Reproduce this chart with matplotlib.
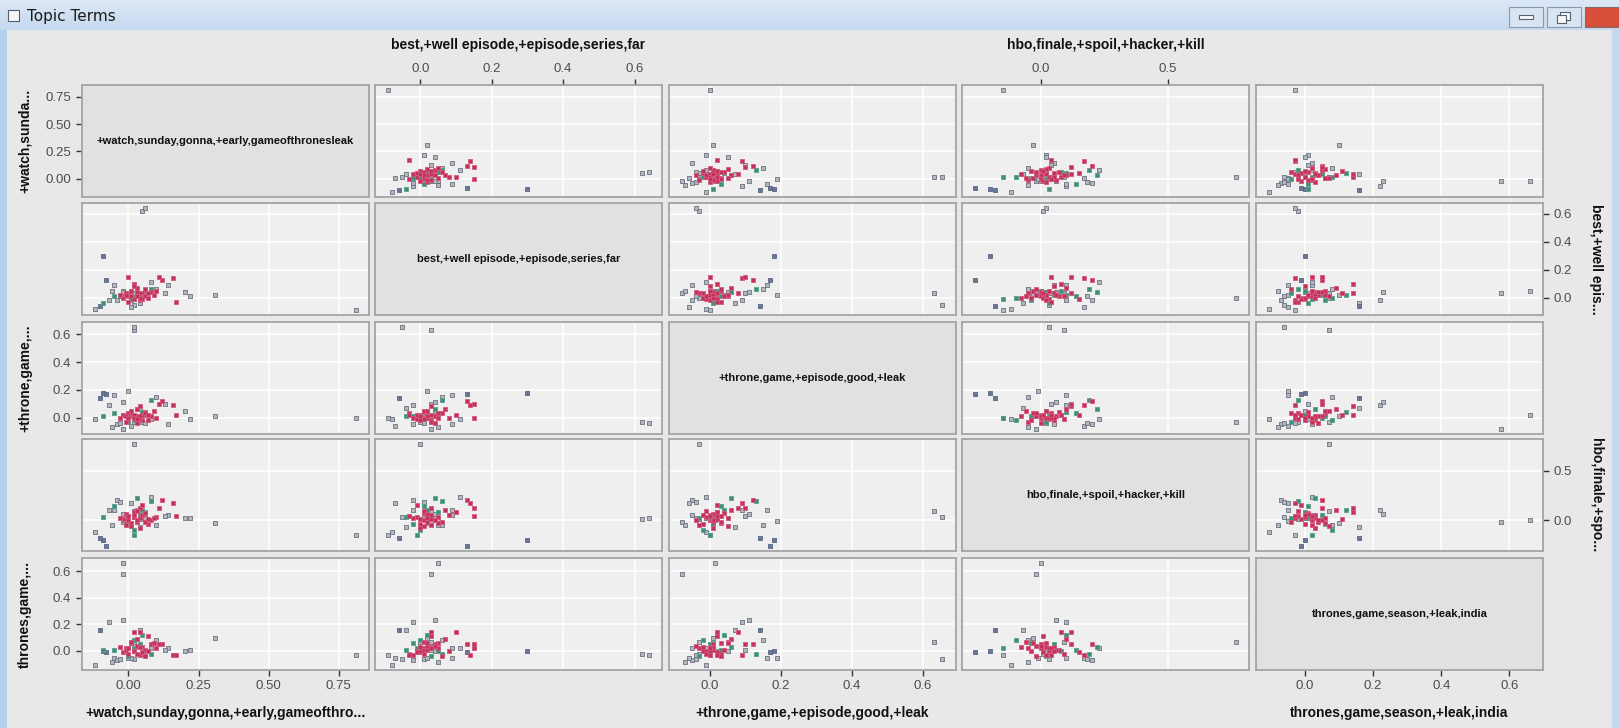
import matplotlib
matplotlib.use("Agg")
import matplotlib.pyplot as plt
import numpy as np
from matplotlib.patches import Rectangle
from matplotlib.colors import LinearSegmentedColormap

# ---------------- data (topic loadings) ----------------
topic_labels = [
    "+watch,sunday,gonna,+early,gameofthronesleak",
    "best,+well episode,+episode,series,far",
    "+throne,game,+episode,good,+leak",
    "hbo,finale,+spoil,+hacker,+kill",
    "thrones,game,season,+leak,india",
]
bottom_titles = ["+watch,sunday,gonna,+early,gameofthro...", None,
                 "+throne,game,+episode,good,+leak", None,
                 "thrones,game,season,+leak,india"]
top_titles = [None, "best,+well episode,+episode,series,far", None,
              "hbo,finale,+spoil,+hacker,+kill", None]
left_titles = ["+watch,sunda...", None, "+throne,game,...", None, "thrones,game,..."]
right_titles = [None, "best,+well epis...", None, "hbo,finale,+spo...", None]

tick_values = [[0.0, 0.25, 0.5, 0.75], [0.0, 0.2, 0.4, 0.6], [0.0, 0.2, 0.4, 0.6],
               [0.0, 0.5], [0.0, 0.2, 0.4, 0.6]]
tick_formats = ["{:.2f}", "{:.1f}", "{:.1f}", "{:.1f}", "{:.1f}"]

watch = [0.81, 0.05, 0.06, 0.02, 0.02, -0.02, -0.02, 0.02, -0.09, 0.31, 0.22, -0.12, -0.10, -0.08,
         -0.07, 0.14, -0.05, -0.04, 0.13, -0.06, 0.01, 0.10, 0.20, -0.03, 0.04, 0.08, -0.02, 0.00,
         0.02, 0.04, -0.05, 0.01, 0.06, 0.00, 0.03, -0.09, 0.08, 0.02, 0.05,
         0.00, 0.02, 0.03, -0.02, 0.05, 0.01, 0.04, 0.06, -0.01, 0.08, 0.03, 0.00, 0.07, 0.02, 0.04,
         -0.03, 0.10, 0.01, 0.05, 0.03, 0.12, 0.06, -0.01, 0.02, 0.09, 0.04, 0.16, 0.07, 0.00, 0.03, 0.11, 0.17]
best = [-0.09, 0.62, 0.64, 0.03, -0.05, 0.03, 0.05, 0.00, 0.30, 0.02, 0.01, -0.08, -0.06, 0.13,
        -0.02, 0.09, 0.09, -0.02, 0.03, 0.05, -0.07, 0.06, 0.04, 0.01, -0.04, 0.11, 0.04, 0.02,
        0.00, 0.02, 0.01, -0.02, 0.05, 0.03, 0.04, -0.04, 0.06, -0.01, 0.02,
        0.01, -0.01, 0.02, 0.00, 0.03, 0.05, -0.02, 0.01, 0.03, 0.04, 0.07, -0.03, 0.00, 0.10, 0.03,
        0.02, 0.05, 0.01, -0.01, 0.04, 0.13, 0.06, 0.02, 0.08, 0.02, 0.00, 0.14, 0.03, 0.15, 0.01, 0.15, -0.03]
throne = [0.00, -0.03, -0.04, 0.63, 0.655, -0.08, 0.015, -0.03, 0.18, 0.01, -0.01, -0.01, 0.14, 0.17,
          0.09, -0.05, 0.16, -0.05, 0.10, -0.07, -0.06, 0.15, 0.05, -0.04, 0.07, -0.01, 0.11, 0.19,
          -0.02, 0.00, 0.03, 0.01, 0.02, -0.03, 0.06, 0.01, 0.13, 0.00, 0.04,
          0.00, -0.01, 0.01, 0.02, -0.02, 0.03, 0.00, 0.04, -0.03, 0.01, 0.06, 0.03, -0.02, 0.02, 0.08,
          0.00, 0.00, 0.05, 0.02, -0.04, 0.12, 0.03, 0.01, 0.00, 0.05, 0.01, 0.09, 0.02, 0.00, -0.01, 0.10, 0.02]
hbo = [-0.15, 0.01, 0.02, 0.09, 0.03, -0.02, 0.00, 0.77, -0.20, -0.03, 0.02, -0.12, -0.18, -0.26,
       0.10, 0.05, 0.10, 0.20, 0.04, -0.05, 0.17, -0.05, 0.02, 0.18, -0.07, 0.23, 0.06, -0.01,
       -0.10, 0.05, 0.14, -0.04, 0.08, 0.02, 0.22, 0.03, 0.19, -0.15, 0.10,
       0.00, 0.03, -0.02, 0.01, 0.05, -0.03, 0.02, 0.07, -0.05, 0.00, 0.10, 0.04, -0.04, 0.08, 0.12,
       0.02, 0.03, -0.06, 0.15, 0.00, 0.20, -0.02, 0.06, 0.05, 0.02, -0.08, 0.17, 0.01, 0.04, 0.09, 0.12, 0.04]
thrones = [-0.03, -0.02, -0.03, 0.07, -0.06, 0.575, 0.66, 0.07, 0.00, 0.10, 0.01, -0.105, 0.16, -0.01,
           0.22, 0.02, -0.05, -0.07, 0.01, -0.08, -0.05, 0.08, 0.00, -0.06, 0.16, 0.02, 0.23, -0.05,
           0.08, 0.05, 0.01, 0.06, 0.00, -0.04, 0.03, 0.01, -0.02, 0.02, 0.12,
           0.02, 0.00, 0.04, -0.01, 0.03, 0.06, -0.03, 0.01, 0.02, 0.05, 0.09, -0.02, 0.00, 0.14, 0.14,
           0.03, 0.02, 0.07, -0.01, 0.04, 0.05, -0.04, 0.01, 0.00, 0.06, 0.03, -0.03, 0.11, 0.02, -0.02, 0.05, -0.03]
group = (["g"] * 8 + ["b"] + ["g"] * 3 + ["b", "b"] + ["g"] * 2 + ["g"] * 12
         + ["t"] * 11
         + ["r"] * 32)

# ---------------- styling ----------------
W, H = 1619, 728
fig = plt.figure(figsize=(W / 100, H / 100), dpi=100)
fig.patch.set_facecolor("#E8E8E8")
plt.rcParams["font.family"] = ["Liberation Sans", "DejaVu Sans"]


def fx(x):
    return x / W


def fy(y):
    return 1 - y / H


def rect(x0, y0, x1, y1, fc, ec="none", lw=0.0, z=0):
    fig.patches.append(Rectangle((fx(x0), fy(y1)), (x1 - x0) / W, (y1 - y0) / H,
                                 transform=fig.transFigure, facecolor=fc, edgecolor=ec,
                                 lw=lw, zorder=z))


# window chrome
bar = fig.add_axes([0, fy(30), 1, 30 / H])
grad = np.linspace(0, 1, 50).reshape(-1, 1)
cm = LinearSegmentedColormap.from_list("tb", ["#DCE8F6", "#C6D9EF"])
bar.imshow(grad, aspect="auto", cmap=cm, extent=[0, 1, 0, 1])
bar.set_axis_off()
rect(0, 30, 7, 728, "#B4CFEC")
rect(1612, 30, 1619, 728, "#C4D8EE")
rect(8, 10, 19, 21, "#F4F6F8", "#55606E", 0.8, 5)
fig.text(fx(27), fy(16), "Topic Terms", fontsize=11, color="#1A1A1A", va="center", ha="left",
         family=["DejaVu Sans"])
rect(1509, 7, 1543, 27, "#D8E4F2", "#8A9AB0", 0.8, 5)
rect(1547, 7, 1581, 27, "#D8E4F2", "#8A9AB0", 0.8, 5)
rect(1585, 7, 1619, 27, "#D8503A", "#8A6A60", 0.8, 5)
rect(1519, 15, 1533, 19, "#F8F8F8", "#55606E", 0.8, 6)
rect(1560, 12, 1570, 20, "#F8F8F8", "#55606E", 0.8, 6)
rect(1557, 15, 1566, 23, "#F8F8F8", "#55606E", 0.8, 7)
fig.text(fx(1602), fy(17), "\u2715", fontsize=9, ha="center", va="center", color="white",
         weight="bold", family=["DejaVu Sans"])

color_face = {"r": "#C4325C", "t": "#3E8E78", "g": "#B2B6BE", "b": "#6A7696"}
color_edge = {"r": "#D25A7E", "t": "#5AA08C", "g": "#6C7280", "b": "#5A6684"}
draw_order = ["g", "b", "t", "r"]

data = [np.array(watch), np.array(best), np.array(throne), np.array(hbo), np.array(thrones)]
grp = np.array(group)
limits = []
for v in data:
    span = v.max() - v.min()
    limits.append((v.min() - 0.05 * span, v.max() + 0.05 * span))

col_left = [81.7, 375.0, 668.5, 962.0, 1256.0]
row_top = [85.0, 203.3, 321.7, 439.0, 558.0]
pw, ph = 287.0, 112.0

tick_kw = dict(length=4.5, width=1.0, color="#333333", labelsize=9.5,
               labelcolor="#4D4D4D", pad=3)

for i in range(5):
    for j in range(5):
        ax = fig.add_axes([fx(col_left[j]), fy(row_top[i] + ph), pw / W, ph / H])
        ax.set_xlim(*limits[j])
        ax.set_ylim(*limits[i])
        for s in ax.spines.values():
            s.set_color("#A4A4A4")
            s.set_linewidth(1.3)
        ax.set_xticks(tick_values[j])
        ax.set_yticks(tick_values[i])
        ax.set_xticklabels([tick_formats[j].format(t) for t in tick_values[j]])
        ax.set_yticklabels([tick_formats[i].format(t) for t in tick_values[i]])
        ax.tick_params(axis="both", which="both", length=0, labelbottom=False, labelleft=False,
                       labeltop=False, labelright=False, bottom=False, left=False, top=False,
                       right=False)
        if i == j:
            ax.set_facecolor("#E1E1E1")
            ax.text(0.5, 0.5, topic_labels[i], transform=ax.transAxes, ha="center", va="center",
                    fontsize=8, weight="bold", color="#111111")
        else:
            ax.set_facecolor("#EFEFEF")
            ax.grid(True, color="white", lw=1.1)
            ax.set_axisbelow(True)
            for g in draw_order:
                m = grp == g
                ax.scatter(data[j][m], data[i][m], s=7, marker="s", c=color_face[g],
                           edgecolors=color_edge[g], linewidths=0.6, zorder=3)
        if i == 0 and top_titles[j]:
            ax.tick_params(axis="x", top=True, labeltop=True, **tick_kw)
        if i == 4 and bottom_titles[j]:
            ax.tick_params(axis="x", bottom=True, labelbottom=True, **tick_kw)
        if j == 0 and left_titles[i]:
            ax.tick_params(axis="y", left=True, labelleft=True, **tick_kw)
        if j == 4 and right_titles[i]:
            ax.tick_params(axis="y", right=True, labelright=True, **tick_kw)

title_kw = dict(fontsize=10, weight="bold", color="#111111", ha="center", va="center")
for j in range(5):
    cx = col_left[j] + pw / 2
    if top_titles[j]:
        fig.text(fx(cx), fy(45), top_titles[j], **title_kw)
    if bottom_titles[j]:
        fig.text(fx(cx), fy(713), bottom_titles[j], **title_kw)
for i in range(5):
    cy = row_top[i] + ph / 2
    if left_titles[i]:
        fig.text(fx(25), fy(cy), left_titles[i], rotation=90, **title_kw)
    if right_titles[i]:
        fig.text(fx(1596), fy(cy), right_titles[i], rotation=270, **title_kw)

fig.savefig("out.png", dpi=100, facecolor=fig.get_facecolor())
